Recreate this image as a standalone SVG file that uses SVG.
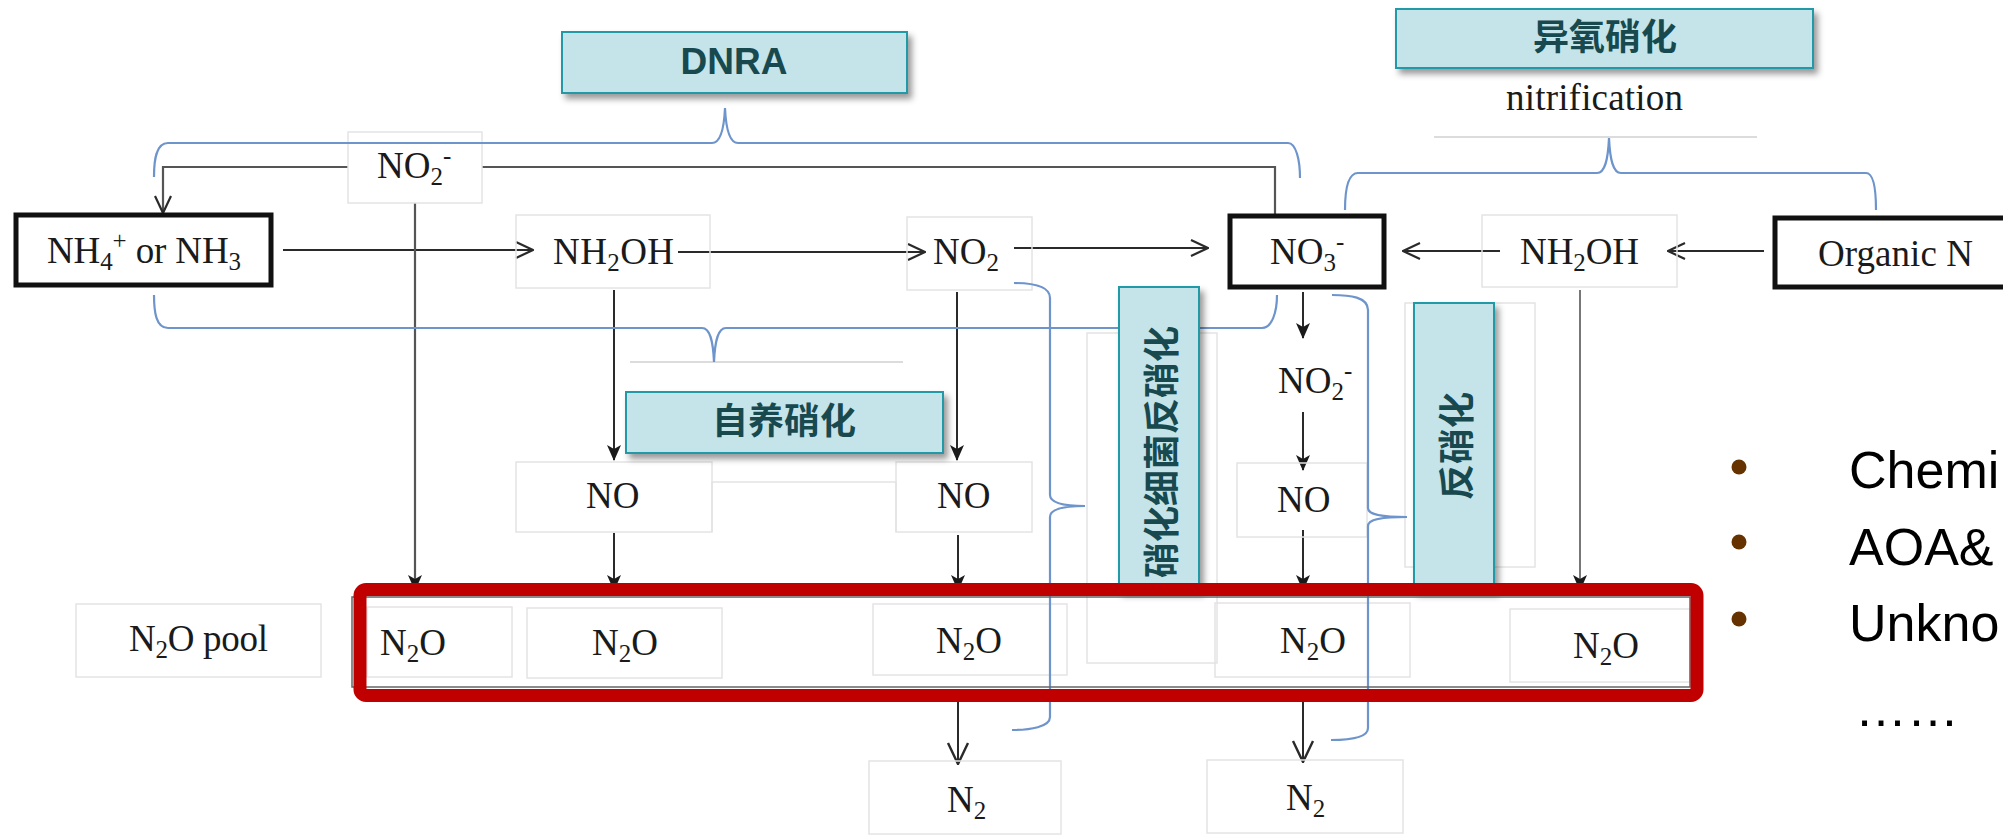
<svg xmlns="http://www.w3.org/2000/svg" width="2003" height="835" viewBox="0 0 2003 835">
<defs>
<style>
.t{font-family:"Liberation Serif","Times New Roman",serif;font-size:37px;fill:#1a1a1a}
.s{font-size:25px}
.fb{fill:none;stroke:#e4e4e4;stroke-width:1.5}
.fbw{fill:#fff;stroke:#e4e4e4;stroke-width:1.5}
.thick{fill:#fff;stroke:#111;stroke-width:5}
.br{fill:none;stroke:#6e94cc;stroke-width:2.2}
.gl{fill:none;stroke:#dcdcdc;stroke-width:2}
.ln{fill:none;stroke:#2a2a2a;stroke-width:2}
.lg{fill:none;stroke:#555;stroke-width:2.2}
.lb{fill:#c4e4ea;stroke:#2399a6;stroke-width:2}
.lt{font-family:"Noto Sans CJK SC","Liberation Sans",sans-serif;font-weight:700;font-size:36px;fill:#17494f}
.lat{font-family:"Liberation Sans",Arial,sans-serif;font-weight:700;font-size:37px;fill:#17494f}
.bt{font-family:"Liberation Sans",Arial,sans-serif;font-size:52px;fill:#000}
</style>
<marker id="open" viewBox="0 0 20 20" refX="19" refY="10" markerWidth="20" markerHeight="20" markerUnits="userSpaceOnUse" orient="auto">
<path d="M2,2 L19,10 L2,18" fill="none" stroke="#2a2a2a" stroke-width="2.2"/>
</marker>
<marker id="openL" viewBox="0 0 24 24" refX="23" refY="12" markerWidth="24" markerHeight="24" markerUnits="userSpaceOnUse" orient="auto">
<path d="M2,2 L23,12 L2,22" fill="none" stroke="#2a2a2a" stroke-width="2.4"/>
</marker>
<marker id="fill" viewBox="0 0 16 14" refX="15" refY="7" markerWidth="16" markerHeight="14" markerUnits="userSpaceOnUse" orient="auto">
<path d="M0,0 L16,7 L0,14 L4,7 Z" fill="#1a1a1a"/>
</marker>
<filter id="sh" x="-10%" y="-10%" width="130%" height="140%">
<feDropShadow dx="4" dy="5" stdDeviation="3" flood-color="#000" flood-opacity="0.4"/>
</filter>
</defs>
<rect width="2003" height="835" fill="#fff"/>

<g id="faint">
<rect class="fb" x="1087" y="333" width="130" height="330"/>
<rect class="fb" x="1405" y="303" width="130" height="264"/>
<line class="gl" x1="1434" y1="137" x2="1757" y2="137"/>
<line class="gl" x1="630" y1="362" x2="903" y2="362"/>
</g>

<g id="connectors">
<path class="ln" d="M283,250 H533" marker-end="url(#open)"/>
<path class="ln" d="M678,252 H925" marker-end="url(#open)"/>
<path class="ln" d="M1014,248 H1208" marker-end="url(#open)"/>
<path class="ln" d="M1500,251 H1403" marker-end="url(#open)"/>
<path class="ln" d="M1764,251 H1668" marker-end="url(#open)"/>
<path class="lg" d="M1275,216 V167 H163 V213" marker-end="url(#open)"/>
<path class="lg" d="M415,203 V590" marker-end="url(#fill)"/>
<path class="ln" d="M614,290 V460" marker-end="url(#fill)"/>
<path class="ln" d="M957,292 V460" marker-end="url(#fill)"/>
<path class="ln" d="M614,533 V590" marker-end="url(#fill)"/>
<path class="ln" d="M958,535 V590" marker-end="url(#fill)"/>
<path class="ln" d="M1303,292 V338" marker-end="url(#fill)"/>
<path class="ln" d="M1303,412 V470" marker-end="url(#fill)"/>
<path class="ln" d="M1303,530 V590" marker-end="url(#fill)"/>
<path class="lg" style="stroke-width:1.6" d="M1580,290 V590" marker-end="url(#fill)"/>
<path class="ln" d="M958,690 V764" marker-end="url(#openL)"/>
<path class="ln" d="M1303,690 V762" marker-end="url(#openL)"/>
</g>

<g id="n-no2-top"><rect class="fbw" x="348" y="132" width="134" height="71"/>
<text class="t" x="377" y="178">NO<tspan class="s" dy="7">2</tspan><tspan class="s" dy="-21">-</tspan></text></g>
<g id="n-nh4"><rect class="thick" x="16" y="215" width="255" height="70"/>
<text class="t" x="47" y="263" textLength="194">NH<tspan class="s" dy="7">4</tspan><tspan class="s" dy="-21">+</tspan><tspan dy="14"> or NH</tspan><tspan class="s" dy="7">3</tspan></text></g>
<g id="n-nh2oh-l"><rect class="fb" x="516" y="215" width="194" height="73"/>
<text class="t" x="553" y="264" textLength="121">NH<tspan class="s" dy="7">2</tspan><tspan dy="-7">OH</tspan></text></g>
<g id="n-no2"><rect class="fb" x="907" y="217" width="125" height="73"/>
<text class="t" x="933" y="264">NO<tspan class="s" dy="7">2</tspan></text></g>
<g id="n-no3"><rect class="thick" x="1230" y="216" width="154" height="71"/>
<text class="t" x="1270" y="264">NO<tspan class="s" dy="7">3</tspan><tspan class="s" dy="-21">-</tspan></text></g>
<g id="n-nh2oh-r"><rect class="fb" x="1482" y="215" width="195" height="72"/>
<text class="t" x="1520" y="264" textLength="119">NH<tspan class="s" dy="7">2</tspan><tspan dy="-7">OH</tspan></text></g>
<g id="n-organic"><rect class="thick" x="1775" y="218" width="260" height="69"/>
<text class="t" x="1818" y="266" textLength="155">Organic N</text></g>

<g id="n-no-l"><rect class="fb" x="516" y="462" width="196" height="70"/>
<path class="fb" d="M712,532 V482 H896 V532"/>
<text class="t" x="586" y="508">NO</text></g>
<g id="n-no-r"><rect class="fb" x="896" y="462" width="136" height="70"/>
<text class="t" x="937" y="508">NO</text></g>
<g id="n-no2-d"><text class="t" x="1278" y="393">NO<tspan class="s" dy="7">2</tspan><tspan class="s" dy="-21">-</tspan></text></g>
<g id="n-no-d"><rect class="fb" x="1237" y="463" width="130" height="74"/>
<text class="t" x="1277" y="512">NO</text></g>

<g id="n-pool"><rect class="fb" x="76" y="604" width="245" height="73"/>
<text class="t" x="129" y="651" textLength="139">N<tspan class="s" dy="7">2</tspan><tspan dy="-7">O pool</tspan></text></g>
<g id="n-n2o-1"><rect class="fb" x="367" y="607" width="145" height="70"/>
<text class="t" x="380" y="655">N<tspan class="s" dy="7">2</tspan><tspan dy="-7">O</tspan></text></g>
<g id="n-n2o-2"><rect class="fb" x="527" y="608" width="195" height="70"/>
<text class="t" x="592" y="655">N<tspan class="s" dy="7">2</tspan><tspan dy="-7">O</tspan></text></g>
<g id="n-n2o-3"><rect class="fb" x="873" y="604" width="194" height="71"/>
<text class="t" x="936" y="653">N<tspan class="s" dy="7">2</tspan><tspan dy="-7">O</tspan></text></g>
<g id="n-n2o-4"><rect class="fb" x="1215" y="603" width="195" height="74"/>
<text class="t" x="1280" y="653">N<tspan class="s" dy="7">2</tspan><tspan dy="-7">O</tspan></text></g>
<g id="n-n2o-5"><rect class="fb" x="1510" y="609" width="180" height="73"/>
<text class="t" x="1573" y="658">N<tspan class="s" dy="7">2</tspan><tspan dy="-7">O</tspan></text></g>
<g id="n-n2-l"><rect class="fb" x="869" y="761" width="192" height="73"/>
<text class="t" x="947" y="812">N<tspan class="s" dy="7">2</tspan></text></g>
<g id="n-n2-r"><rect class="fb" x="1207" y="760" width="196" height="73"/>
<text class="t" x="1286" y="810">N<tspan class="s" dy="7">2</tspan></text></g>

<g id="brackets">
<path class="br" d="M154,177 C154,160 156,143 168,143 H712 C720,143 724,130 725,108 C726,130 730,143 738,143 H1288 C1296,143 1300,160 1300,178"/>
<path class="br" d="M1345,210 C1345,190 1348,173 1358,173 H1597 C1605,173 1608,160 1609,138 C1610,160 1613,173 1621,173 H1866 C1874,173 1876,190 1876,210"/>
<path class="br" d="M154,295 C154,312 156,328 168,328 H702 C710,328 713,340 714,362 C715,340 718,328 726,328 H1262 C1272,328 1277,312 1277,295"/>
<path class="br" d="M1014,283 C1030,283 1050,285 1050,298 V495 C1050,502 1060,506 1085,506 C1060,506 1050,510 1050,517 V717 C1050,727 1030,730 1012,730"/>
<path class="br" d="M1332,295 C1350,295 1368,297 1368,310 V508 C1368,514 1378,517 1407,517 C1378,517 1368,520 1368,526 V728 C1368,738 1350,740 1331,740"/>
</g>
<g id="lbl-nitrification"><text class="t" x="1506" y="110" textLength="177">nitrification</text></g>

<g id="lbl-dnra"><rect class="lb" x="562" y="32" width="345" height="61" filter="url(#sh)"/>
<text class="lat" x="734" y="74" text-anchor="middle">DNRA</text></g>
<g id="lbl-hetero"><rect class="lb" x="1396" y="9" width="417" height="59" filter="url(#sh)"/>
<text class="lt" x="1605" y="50" text-anchor="middle">异氧硝化</text></g>
<g id="lbl-auto"><rect class="lb" x="626" y="392" width="317" height="61" filter="url(#sh)"/>
<text class="lt" x="784" y="434" text-anchor="middle">自养硝化</text></g>
<g id="lbl-nd"><rect class="lb" x="1119" y="287" width="80" height="303" filter="url(#sh)"/>
<text class="lt" transform="translate(1159,452) rotate(-90)" text-anchor="middle" dominant-baseline="central">硝化细菌反硝化</text></g>
<g id="lbl-denit"><rect class="lb" x="1414" y="303" width="80" height="287" filter="url(#sh)"/>
<text class="lt" transform="translate(1454,446) rotate(-90)" text-anchor="middle" dominant-baseline="central">反硝化</text></g>

<g id="n2o-frame">
<rect x="352" y="597" width="1338" height="90" fill="none" stroke="#666" stroke-width="1.5"/>
<rect x="360" y="589.5" width="1337" height="106" rx="6" fill="none" stroke="#c00000" stroke-width="13"/>
</g>

<g id="bullets">
<circle cx="1739" cy="467" r="7.5" fill="#663300"/>
<circle cx="1739" cy="542" r="7.5" fill="#663300"/>
<circle cx="1739" cy="619" r="7.5" fill="#663300"/>
<text class="bt" x="1849" y="488">Chemi</text>
<text class="bt" x="1849" y="565">AOA&amp;</text>
<text class="bt" x="1849" y="641">Unkno</text>
<text class="bt" x="1855" y="726">……</text>
</g>
</svg>
